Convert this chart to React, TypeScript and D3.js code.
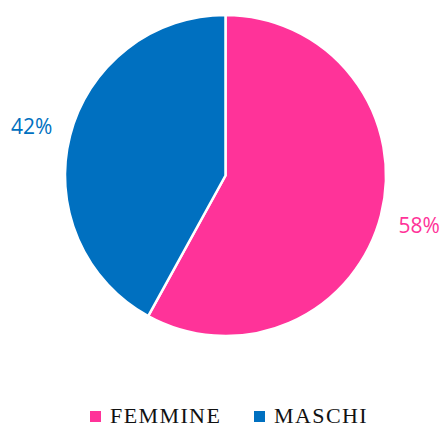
import React from "react";
import * as d3 from "d3";

const categories = ["FEMMINE", "MASCHI"];
const values = [58, 42];
const labels = ["58%", "42%"];
const colors = ["#FF3399", "#0070C0"];

export default function App() {
  const W = 442, H = 428;
  const cx = 225.5, cy = 175.5, r = 160.5;
  const pie = d3.pie<number>().sort(null).value((d) => d)(values);
  const arc = d3.arc<d3.PieArcDatum<number>>().innerRadius(0).outerRadius(r);
  const labelR = 200;
  const legendX = [90, 254];
  return (
    <svg width={W} height={H} style={{ position: "absolute", left: 0, top: 0 }}>
      <rect width={W} height={H} fill="#fff" />
      <g transform={`translate(${cx},${cy})`}>
        {pie.map((p, i) => (
          <path key={i} d={arc(p) || ""} fill={colors[i]} stroke="#fff" strokeWidth={2.5} />
        ))}
        {pie.map((p, i) => {
          const a = (p.startAngle + p.endAngle) / 2;
          const x = Math.sin(a) * labelR;
          const y = -Math.cos(a) * labelR;
          return (
            <text key={i} x={x} y={y} textAnchor="middle" dominantBaseline="central"
              fontFamily="'Open Sans', sans-serif" fontSize={21} fill={colors[i]}>
              {labels[i]}
            </text>
          );
        })}
      </g>
      {categories.map((c, i) => (
        <g key={c} transform={`translate(${legendX[i]},0)`}>
          <rect x={0} y={411} width={11} height={11} fill={colors[i]} />
          <text x={20} y={422.5} fontFamily="'Liberation Serif', serif"
            fontSize={22} letterSpacing={1.4} fill="#111">{c}</text>
        </g>
      ))}
    </svg>
  );
}
